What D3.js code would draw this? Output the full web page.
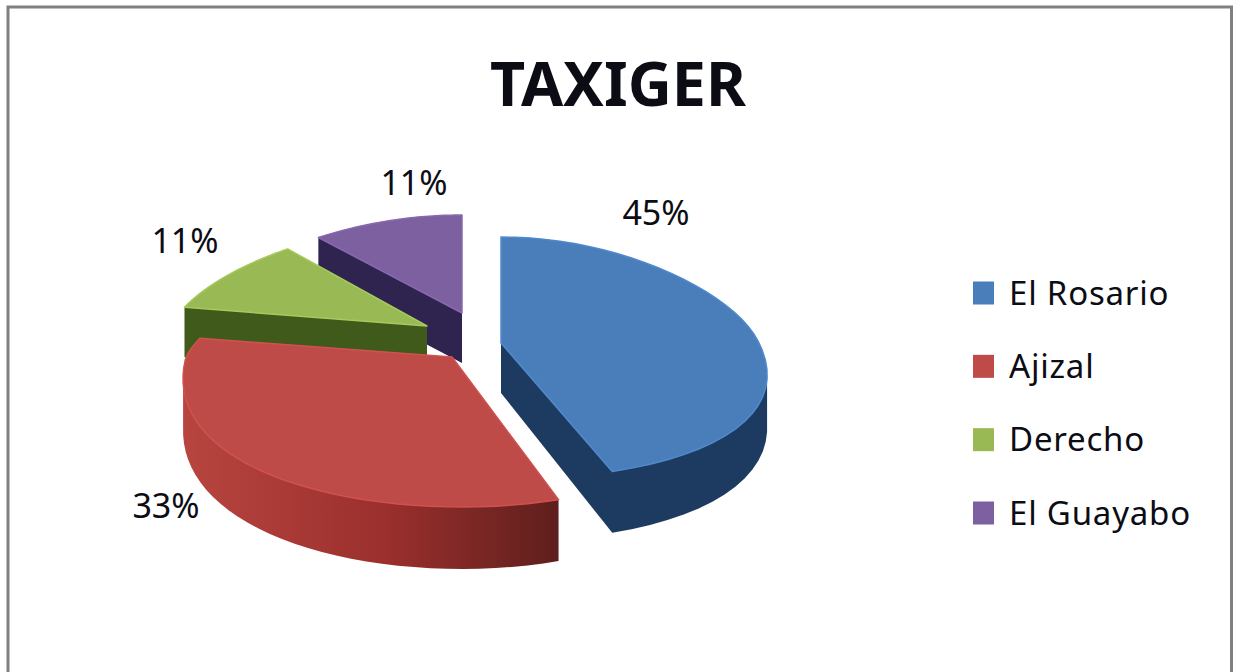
<!DOCTYPE html>
<html>
<head>
<meta charset="utf-8">
<script src="https://cdn.jsdelivr.net/npm/d3@7"></script>
<style>
  html, body { margin: 0; padding: 0; background: #fff; }
  svg { display: block; }
  text { font-family: "Noto Sans", sans-serif; fill: #0c0c14; }
</style>
</head>
<body>
<svg id="chart" width="1233" height="672"></svg>
<script>
const title = "TAXIGER";
const categories = ["El Rosario", "Ajizal", "Derecho", "El Guayabo"];
const values = [45, 33, 11, 11];

const topColors = ["#4a7ebb", "#be4b48", "#98b954", "#7d60a0"];
const sideColors = ["#1d3b60", "url(#redSide)", "#3f5a1b", "#2f2350"];

// where each exploded slice sits on the page, and how far its face reaches
const apexX = [501, 452, 427, 462];
const apexY = [343, 357, 326, 313];
const reachSide = [258, 266, 256, 264];
const reachBack = [106, 100, 100, 98];
const reachFront = [135, 150, 140, 140];
const shearFront = [18, 10, 10, 10];
const labelX = [656, 166, 185, 414];
const labelY = [212, 505, 240, 182];
// back to front
const drawOrder = [3, 2, 0, 1];

const perspective = 0.19;
const depthBack = 50;
const depthFront = 62;

const svg = d3.select("#chart");
const width = 1233;
const height = 672;

svg.append("rect").attr("width", width).attr("height", height).attr("fill", "#fff");

// frame, open at the bottom like the cropped source
svg.append("path")
  .attr("d", "M8,672V7H1231.5V672")
  .attr("fill", "none")
  .attr("stroke", "#808080")
  .attr("stroke-width", 3);

const grad = svg.append("defs").append("linearGradient")
  .attr("id", "redSide")
  .attr("gradientUnits", "userSpaceOnUse")
  .attr("x1", 182).attr("x2", 557).attr("y1", 0).attr("y2", 0);
grad.append("stop").attr("offset", 0).attr("stop-color", "#b8453f");
grad.append("stop").attr("offset", 0.55).attr("stop-color", "#9a2f2d");
grad.append("stop").attr("offset", 1).attr("stop-color", "#5f1f1c");

const arcs = d3.pie().sort(null)(values);

function project(i, angle) {
  const u = Math.sin(angle);
  const v = -Math.cos(angle);
  const ry = v < 0 ? reachBack[i] : reachFront[i];
  return [
    apexX[i] + reachSide[i] * u * (1 + perspective * v) + shearFront[i] * Math.max(v, 0),
    apexY[i] + ry * v,
    v
  ];
}

function outline(i) {
  const a = arcs[i];
  const steps = d3.range(0, 41).map(t => a.startAngle + (a.endAngle - a.startAngle) * t / 40);
  return [[apexX[i], apexY[i], 0]].concat(steps.map(s => project(i, s)));
}

const line = d3.line();

const slices = svg.selectAll("g.slice")
  .data(drawOrder)
  .join("g")
  .attr("class", "slice");

slices.append("path")
  .attr("d", i => {
    const top = outline(i);
    const bottom = top.map(p => [p[0], p[1] + depthBack + (depthFront - depthBack) * Math.max(p[2], 0)]);
    const hull = d3.polygonHull(top.concat(bottom).map(p => [p[0], p[1]]));
    return line(hull) + "Z";
  })
  .attr("fill", i => sideColors[i]);

slices.append("path")
  .attr("d", i => line(outline(i).map(p => [p[0], p[1]])) + "Z")
  .attr("fill", i => topColors[i])
  .attr("stroke", i => d3.color(topColors[i]).brighter(0.25))
  .attr("stroke-width", 1.5)
  .attr("stroke-linejoin", "round");

svg.selectAll("text.pct")
  .data(values)
  .join("text")
  .attr("class", "pct")
  .attr("x", (d, i) => labelX[i])
  .attr("y", (d, i) => labelY[i])
  .attr("text-anchor", "middle")
  .attr("dominant-baseline", "central")
  .attr("font-size", 34)
  .text(d => d + "%");

svg.append("text")
  .attr("x", 618)
  .attr("y", 106)
  .attr("text-anchor", "middle")
  .attr("font-size", 61)
  .attr("font-weight", 700)
  .text(title);

const legendY = d3.scalePoint().domain(categories).range([293, 513]);

const legend = svg.selectAll("g.legend")
  .data(categories)
  .join("g")
  .attr("class", "legend")
  .attr("transform", d => `translate(973,${legendY(d)})`);

legend.append("rect")
  .attr("y", -11.5)
  .attr("width", 21)
  .attr("height", 23)
  .attr("fill", (d, i) => topColors[i]);

legend.append("text")
  .attr("x", 36)
  .attr("y", 11.5)
  .attr("font-size", 33)
  .attr("letter-spacing", 0.8)
  .text(d => d);
</script>
</body>
</html>
